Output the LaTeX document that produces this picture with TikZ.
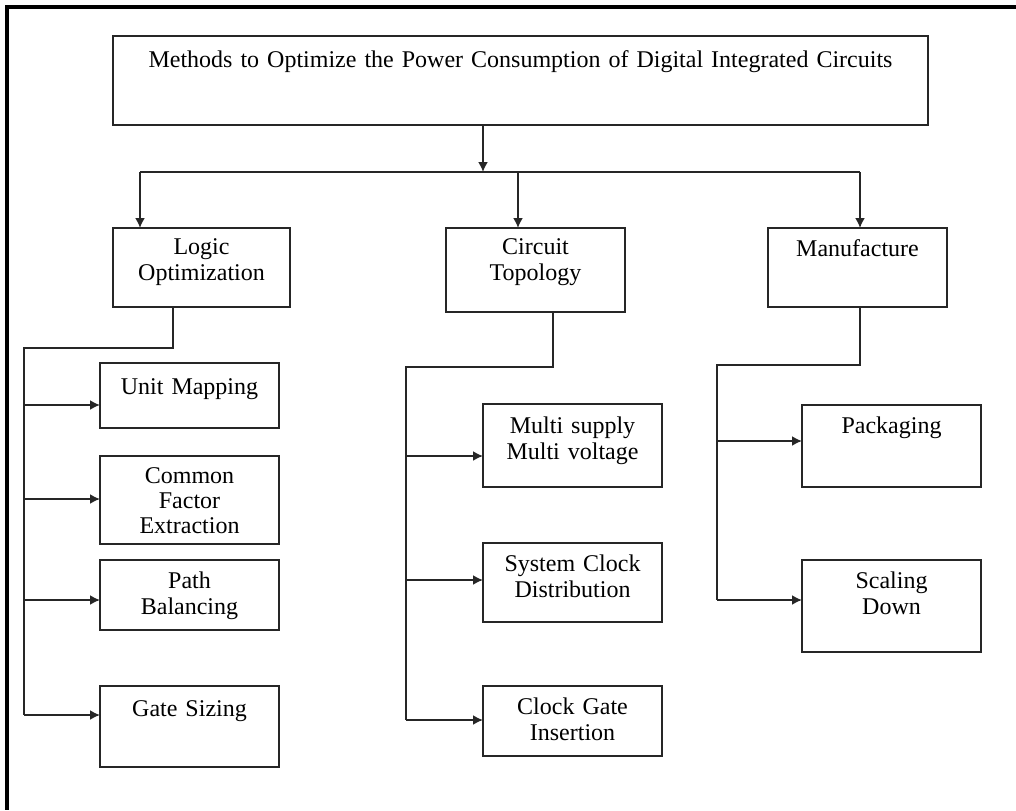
\documentclass[tikz,border=0pt]{standalone}
\usepackage{fontspec}
\setmainfont{Liberation Serif}
\usetikzlibrary{positioning,arrows.meta}

\tikzset{
  blk/.style={draw=black!85, line width=0.9pt, text width=89.5pt, align=center,
              inner xsep=0pt, inner ysep=0pt, outer sep=0pt,
              font=\fontsize{12}{13}\selectfont},
  wire/.style={draw=black!85, line width=0.9pt},
  arr/.style={-{Latex[length=5pt,width=5pt]}}
}

\begin{document}
\begin{tikzpicture}[x=0.5pt, y=-0.5pt]
  \useasboundingbox (0,0) rectangle (1016,810);
  \draw[line width=1.8pt] (1016,7) -- (7,7) -- (7,810);

  \node[blk, text width=407.5pt, text height=15.5pt, text depth=29pt,
        anchor=north west] (title) at (113,36) {
    Methods to Optimize the Power Consumption of Digital Integrated Circuits
  };

  % first level
  \node[blk, text width=88.5pt, text height=13pt, text depth=26.5pt,
        below right = 51.5pt and 0pt of title.south west] (logic) {Logic\\Optimization};
  \node[blk, text height=13pt, text depth=29pt,
        below right = 51.5pt and 166.5pt of title.south west] (circuit) {Circuit\\Topology};
  \node[blk, text height=14pt, text depth=25.5pt,
        below right = 51.5pt and 327.5pt of title.south west] (manu) {Manufacture};

  % logic optimization
  \node[blk, text height=15.5pt, text depth=17pt,
        below right = 28pt and -6.5pt of logic.south west] (unit) {Unit Mapping};
  \node[blk, text height=13.5pt, text depth=30.5pt, font=\fontsize{12}{12.5}\selectfont,
        below right = 14pt and 0pt of unit.south west] (common) {Common\\Factor\\Extraction};
  \node[blk, text height=14pt, text depth=21pt,
        below right = 8pt and 0pt of common.south west] (path) {Path\\Balancing};
  \node[blk, text height=15pt, text depth=25.5pt,
        below right = 28pt and 0pt of path.south west] (gate) {Gate Sizing};

  % circuit topology
  \node[blk, text height=14.5pt, text depth=27pt,
        below right = 46pt and 18.5pt of circuit.south west] (multi) {Multi supply\\Multi voltage};
  \node[blk, text height=14pt, text depth=25.5pt,
        below right = 28pt and 0pt of multi.south west] (sysclk) {System Clock\\Distribution};
  \node[blk, text height=14pt, text depth=21pt,
        below right = 32pt and 0pt of sysclk.south west] (clkgate) {Clock Gate\\Insertion};

  % manufacture
  \node[blk, text height=14pt, text depth=27pt,
        below right = 49pt and 17pt of manu.south west] (pack) {Packaging};
  \node[blk, text height=14pt, text depth=32pt,
        below right = 36.5pt and 0pt of pack.south west] (scale) {Scaling\\Down};

  % top bus
  \coordinate (split) at (483,172);
  \coordinate (busL) at (140,172);
  \coordinate (busC) at (518,172);
  \coordinate (busR) at (860,172);
  \draw[wire, arr] (title.south -| split) -- (split);
  \draw[wire] (busL) -- (busR);
  \foreach \c/\n in {busL/logic, busC/circuit, busR/manu}
    \draw[wire, arr] (\c) -- (\c |- \n.north);

  % branches
  \coordinate (kneeL) at (173,348);
  \coordinate (railL) at (24,348);
  \coordinate (kneeC) at (553,367);
  \coordinate (railC) at (406,367);
  \coordinate (kneeR) at (860,365);
  \coordinate (railR) at (717,365);
  \foreach \n/\d in {unit/21, common/21.5, path/20, gate/14.5,
                     multi/26, sysclk/18.5, clkgate/17, pack/18, scale/20}
    \path ([yshift=-\d pt]\n.north west) coordinate (\n-in);

  \draw[wire] (kneeL |- logic.south) -- (kneeL) -- (railL) -- (railL |- gate-in);
  \draw[wire] (kneeC |- circuit.south) -- (kneeC) -- (railC) -- (railC |- clkgate-in);
  \draw[wire] (kneeR |- manu.south) -- (kneeR) -- (railR) -- (railR |- scale-in);

  \foreach \r/\n in {railL/unit, railL/common, railL/path, railL/gate,
                     railC/multi, railC/sysclk, railC/clkgate,
                     railR/pack, railR/scale}
    \draw[wire, arr] (\r |- \n-in) -- (\n-in);
\end{tikzpicture}
\end{document}
